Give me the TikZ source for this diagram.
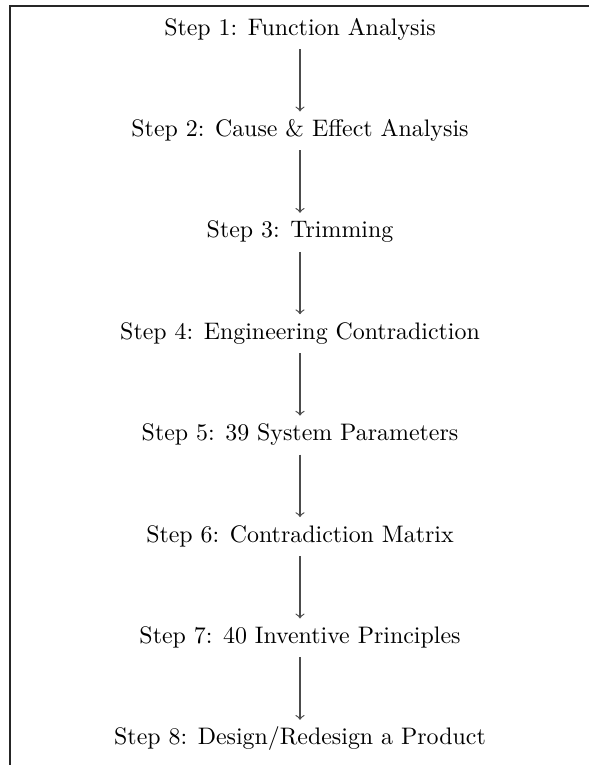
\documentclass[tikz,border=0pt]{standalone}
\begin{document}
\begin{tikzpicture}[x=0.4186pt, y=-0.4186pt,
  stepnode/.style={anchor=base, inner sep=0pt, text=black},
  flow/.style={->, draw=black!70, line width=0.5pt},
  frameline/.style={draw=black!85, line width=0.8pt}]
  % canvas
  \useasboundingbox (0,0) rectangle (589,765);
  % page frame (top and left edges)
  \draw[frameline] (10,765) -- (10,6) -- (589,6);

  % the eight steps
  \node[stepnode] (s1) at (300,35.0)  {Step 1: Function Analysis};
  \node[stepnode] (s2) at (300,136.4) {Step 2: Cause \& Effect Analysis};
  \node[stepnode] (s3) at (300,237.8) {Step 3: Trimming};
  \node[stepnode] (s4) at (300,339.2) {Step 4: Engineering Contradiction};
  \node[stepnode] (s5) at (300,440.6) {Step 5: 39 System Parameters};
  \node[stepnode] (s6) at (300,542.0) {Step 6: Contradiction Matrix};
  \node[stepnode] (s7) at (300,643.4) {Step 7: 40 Inventive Principles};
  \node[stepnode] (s8) at (300,744.8) {Step 8: Design/Redesign a Product};

  % arrows between consecutive steps
  \foreach \a/\b in {s1/s2,s2/s3,s3/s4,s4/s5,s5/s6,s6/s7,s7/s8}{
    \draw[flow] ([yshift=-14*0.4186pt]\a.base) -- ([yshift=25*0.4186pt]\b.base);
  }
\end{tikzpicture}
\end{document}
